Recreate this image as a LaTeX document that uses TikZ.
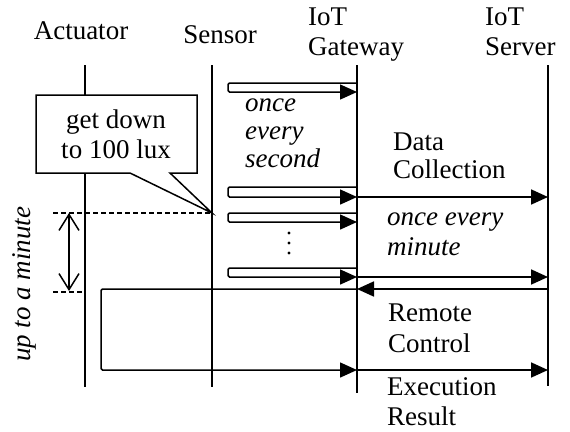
\documentclass[tikz,border=0pt]{standalone}
\usepackage{fontspec}
\setmainfont{Liberation Serif}
\usetikzlibrary{arrows.meta}
\begin{document}
\begin{tikzpicture}[x=1pt,y=-1pt,
  txt/.style={inner sep=0pt,font=\fontsize{27}{30}\selectfont},
  itxt/.style={txt,font=\fontsize{27}{30}\selectfont\itshape},
  lifeline/.style={line width=1.8pt},
  msg/.style={line width=1.8pt,-{Triangle[length=17pt,width=15pt]}},
  loopmsg/.style={line width=1.5pt,rounded corners=1.5pt,-{Triangle[length=17pt,width=15pt]}},
  guide/.style={line width=1.3pt,dash pattern=on 5pt off 3pt},
  span/.style={line width=1.5pt,{Straight Barb[length=16pt,width=20pt,line width=1.5pt]}-{Straight Barb[length=16pt,width=20pt,line width=1.5pt]}},
  callout/.style={draw,fill=white,line width=1.5pt,line join=miter}]
\useasboundingbox (0,0) rectangle (570,431);

% participants (multi-line labels are placed by the baseline of their last line)
\node[txt,anchor=base] (hAct) at (81,39) {Actuator};
\node[txt,anchor=base] (hSen) at (220,43) {Sensor};
\node[txt,anchor=base west,align=left] (hGw) at (308,55) {IoT\\Gateway};
\node[txt,anchor=base west,align=left] (hSrv) at (485,55) {IoT\\Server};

% lifelines
\coordinate (actT) at (85,65);  \coordinate (actB) at (85,387);
\coordinate (senT) at (212,65); \coordinate (senB) at (212,387);
\coordinate (gwT) at (357,65);  \coordinate (gwB) at (357,393);
\coordinate (srvT) at (548,65); \coordinate (srvB) at (548,386);
\draw[lifeline] (actT) -- (actB);
\draw[lifeline] (senT) -- (senB);
\draw[lifeline] (gwT) -- (gwB);
\draw[lifeline] (srvT) -- (srvB);

% sensor readings, once every second
\foreach \i/\t/\b in {1/83/92,2/187/197,3/213/222,4/268/277}{
  \coordinate (rdT\i) at (gwT |- 0,\t);
  \coordinate (rdL\i) at (228,\t);
  \coordinate (rdB\i) at (228,\b);
  \coordinate (rdE\i) at (gwT |- 0,\b);
  \draw[loopmsg] (rdT\i) -- (rdL\i) -- (rdB\i) -- (rdE\i);
}
\foreach \y in {233,243,253} \fill (289,\y) circle (1.6pt);

% data collection, once every minute
\coordinate (dc1G) at (gwT |- 0,197); \coordinate (dc1S) at (srvT |- 0,197);
\coordinate (dc2G) at (gwT |- 0,277); \coordinate (dc2S) at (srvT |- 0,277);
\draw[msg] (dc1G) -- (dc1S);
\draw[msg] (dc2G) -- (dc2S);

% remote control and execution result
\coordinate (rcS) at (srvT |- 0,289); \coordinate (rcG) at (gwT |- 0,289);
\coordinate (lpT) at (101,289); \coordinate (lpB) at (101,370);
\coordinate (erG) at (gwT |- 0,370); \coordinate (erS) at (srvT |- 0,370);
\draw[msg] (rcS) -- (rcG);
\draw[loopmsg] (rcG) -- (lpT) -- (lpB) -- (erG);
\draw[msg] (erG) -- (erS);

% labels
\node[itxt,anchor=base west,align=left,font=\fontsize{27}{28}\selectfont\itshape] (lSec) at (245,167) {once\\every\\second};
\node[txt,anchor=base west,align=left,font=\fontsize{27}{28}\selectfont] (lDc) at (393,178) {Data\\Collection};
\node[itxt,anchor=base west,align=left] (lMin) at (387,255) {once every\\minute};
\node[txt,anchor=base west,align=left,font=\fontsize{27}{31}\selectfont] (lRc) at (388,352) {Remote\\Control};
\node[txt,anchor=base west,align=left] (lEr) at (387,425) {Execution\\Result};

% threshold callout and waiting time
\coordinate (tip) at (senT |- 0,213);
\coordinate (gapT) at (53,213);
\coordinate (gapB) at (53,292);
\coordinate (actG) at (actT |- 0,292);
\draw[guide] (gapT) -- (tip);
\draw[guide] (gapB) -- (actG);
\coordinate (spT) at (69,213); \coordinate (spB) at (69,291);
\draw[span] (spT) -- (spB);
\draw[callout] (36,95) -- (197,95) -- (197,173) -- (170,173) -- (tip) -- (130,173) -- (36,173) -- cycle;
\node[txt,anchor=base,align=center] (lLux) at (116,158) {get down\\to 100 lux};
\node[itxt,anchor=base west,rotate=90] (lWait) at (30,362) {up to a minute};
\end{tikzpicture}
\end{document}
